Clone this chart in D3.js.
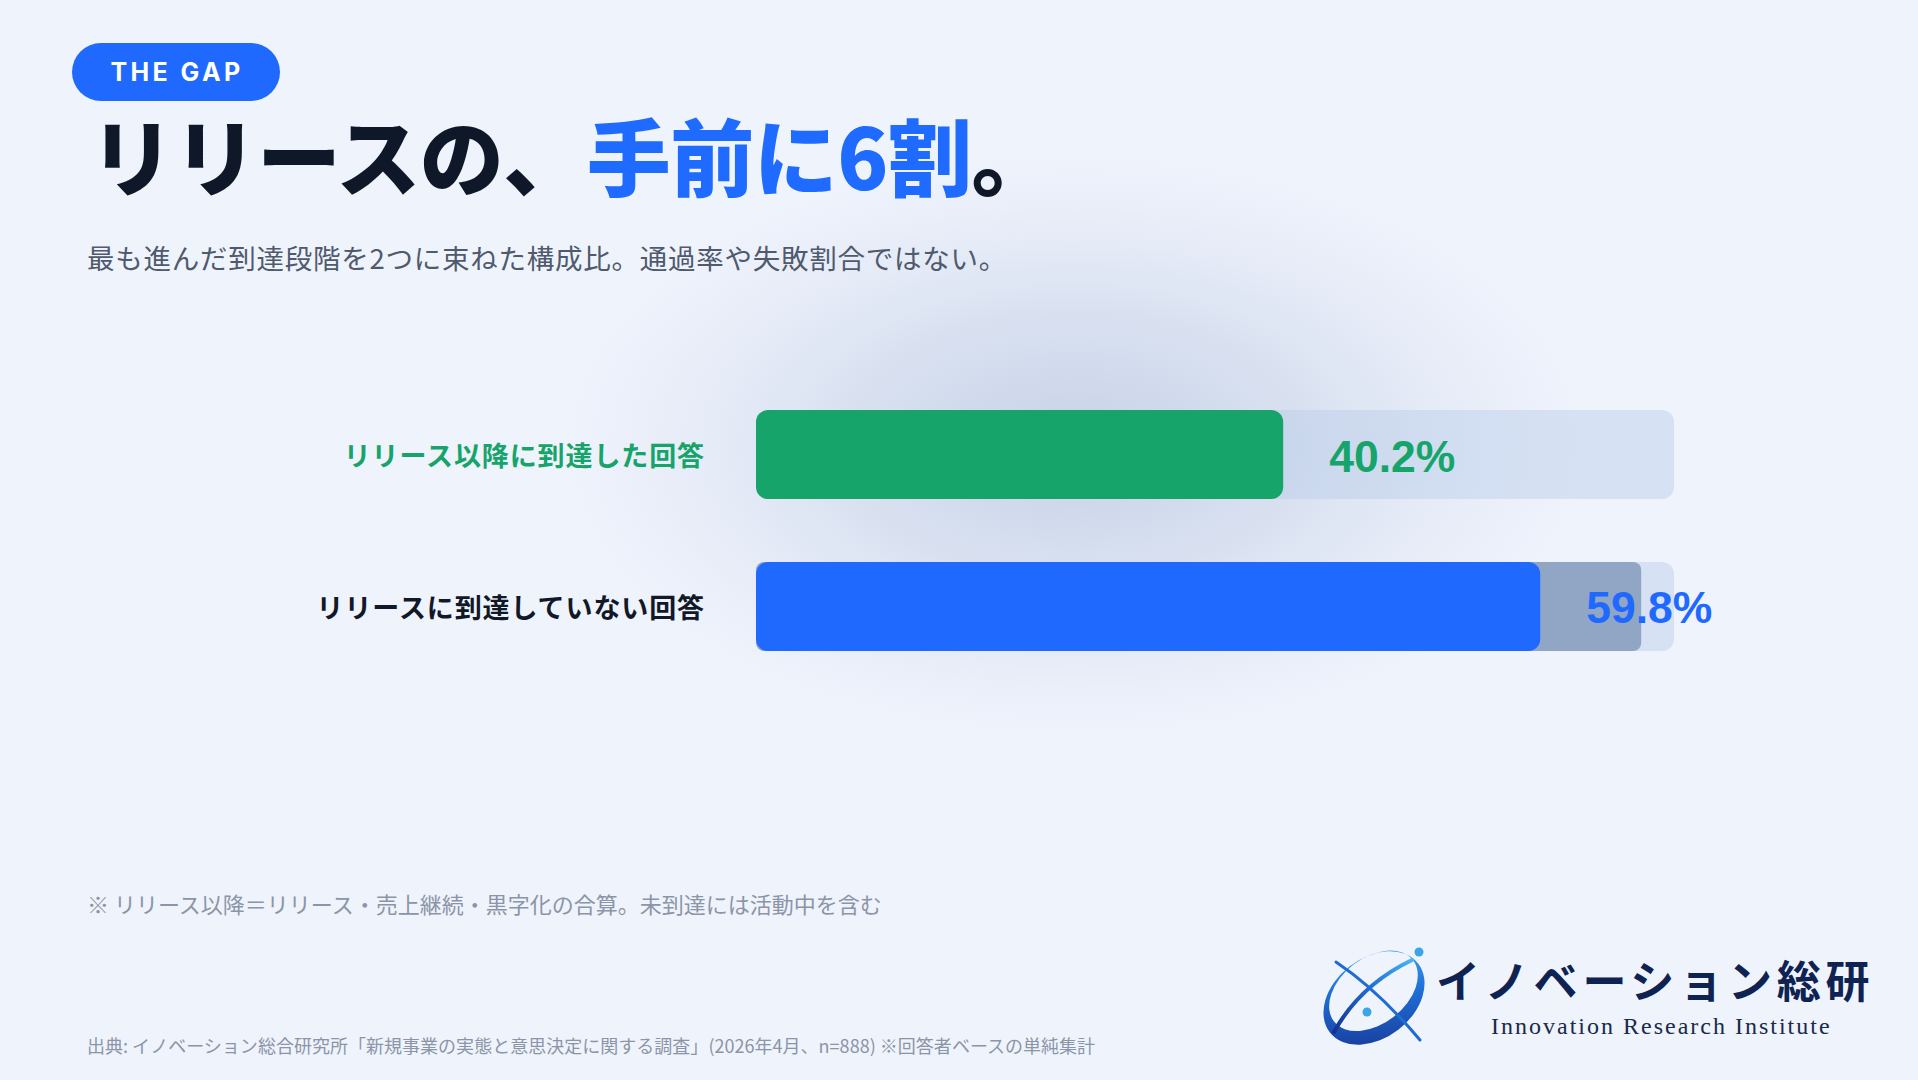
<!DOCTYPE html>
<html lang="ja">
<head>
<meta charset="utf-8">
<script src="https://cdn.jsdelivr.net/npm/d3@7"></script>
<style>
  html, body { margin: 0; padding: 0; background: #eff3fc; }
  svg { display: block; }
</style>
</head>
<body>
<svg id="chart" width="1918" height="1080"></svg>
<script>
// ---- data ----
const categories = ["リリース以降に到達した回答", "リリースに到達していない回答"];
const values = [40.2, 59.8];
const valueLabels = ["40.2%", "59.8%"];
const ghostValues = [null, 67.5];   // grey under-bar visible on the second row
const scaleMax = 70;

const badgeText = "THE GAP";
const titleParts = [
  { text: "リリースの、", color: "#0f1828" },
  { text: "手前に6割", color: "#1f6bff" },
  { text: "。", color: "#0f1828" }
];
const subtitle = "最も進んだ到達段階を2つに束ねた構成比。通過率や失敗割合ではない。";
const footnote = "※ リリース以降＝リリース・売上継続・黒字化の合算。未到達には活動中を含む";
const source = "出典: イノベーション総合研究所「新規事業の実態と意思決定に関する調査」(2026年4月、n=888) ※回答者ベースの単純集計";
const logoJa = "イノベーション総研";
const logoEn = "Innovation Research Institute";

// ---- styles ----
const barColors = ["#16a46b", "#1f69ff"];
const labelColors = ["#16a46b", "#111827"];
const valueColors = ["#16a46b", "#1f69ff"];
const JP = "'Noto Sans CJK JP', 'Noto Sans', sans-serif";

const svg = d3.select("#chart");
const defs = svg.append("defs");

svg.append("rect").attr("width", 1918).attr("height", 1080).attr("fill", "#eff3fc");

// glow behind chart
const rg = defs.append("radialGradient").attr("id", "glow")
  .attr("cx", "50%").attr("cy", "50%").attr("r", "50%");
rg.append("stop").attr("offset", "0%").attr("stop-color", "#8fa3c8").attr("stop-opacity", 0.42);
rg.append("stop").attr("offset", "45%").attr("stop-color", "#9aaed0").attr("stop-opacity", 0.26);
rg.append("stop").attr("offset", "100%").attr("stop-color", "#b8c6e0").attr("stop-opacity", 0);
svg.append("ellipse").attr("cx", 1075).attr("cy", 445).attr("rx", 520).attr("ry", 295)
  .attr("fill", "url(#glow)");

// ---- header ----
const badge = svg.append("g");
badge.append("rect").attr("x", 72).attr("y", 43).attr("width", 208).attr("height", 58)
  .attr("rx", 29).attr("fill", "#1f69ff");
badge.append("text").attr("x", 177).attr("y", 72).attr("dy", "0.36em")
  .attr("text-anchor", "middle").attr("fill", "#ffffff")
  .attr("font-family", "Inter, 'Liberation Sans', sans-serif").attr("font-weight", 700)
  .attr("font-size", 25).attr("letter-spacing", 3.4).text(badgeText);

const title = svg.append("text").attr("x", 90).attr("y", 190)
  .attr("font-family", JP).attr("font-weight", 900).attr("font-size", 84)
  .attr("letter-spacing", -0.5);
title.selectAll("tspan").data(titleParts).join("tspan")
  .attr("fill", d => d.color).text(d => d.text);

svg.append("text").attr("x", 87).attr("y", 269)
  .attr("font-family", JP).attr("font-size", 27.5).attr("fill", "#4f5a6d")
  .attr("letter-spacing", 0.75).text(subtitle);

// ---- chart ----
const x = d3.scaleLinear().domain([0, scaleMax]).range([756, 1674]);
const y = d3.scaleBand().domain(categories).range([410, 651]).paddingInner(0.414).paddingOuter(0);
const rows = categories.map((c, i) => ({ cat: c, v: values[i], label: valueLabels[i], ghost: ghostValues[i], i }));

const g = svg.append("g");
// tracks
g.selectAll("rect.track").data(rows).join("rect").attr("class", "track")
  .attr("x", x(0)).attr("y", d => y(d.cat))
  .attr("width", x(scaleMax) - x(0)).attr("height", y.bandwidth())
  .attr("rx", 12).attr("fill", "#b8cbe8").attr("fill-opacity", 0.45);
// ghost bars
g.selectAll("rect.ghost").data(rows.filter(d => d.ghost != null)).join("rect").attr("class", "ghost")
  .attr("x", x(0)).attr("y", d => y(d.cat))
  .attr("width", d => x(d.ghost) - x(0)).attr("height", y.bandwidth())
  .attr("rx", 8).attr("fill", "#91a6c4");
// value bars
g.selectAll("rect.bar").data(rows).join("rect").attr("class", "bar")
  .attr("x", x(0)).attr("y", d => y(d.cat))
  .attr("width", d => x(d.v) - x(0)).attr("height", y.bandwidth())
  .attr("rx", 12).attr("fill", d => barColors[d.i]);
// category labels
g.selectAll("text.cat").data(rows).join("text").attr("class", "cat")
  .attr("x", 705).attr("y", d => y(d.cat) + y.bandwidth() / 2 + 2.5).attr("dy", "0.35em")
  .attr("text-anchor", "end").attr("font-family", JP).attr("font-weight", 700)
  .attr("font-size", 27).attr("letter-spacing", 0.9)
  .attr("fill", d => labelColors[d.i]).text(d => d.cat);
// value labels
g.selectAll("text.val").data(rows).join("text").attr("class", "val")
  .attr("x", d => x(d.v) + 46).attr("y", d => y(d.cat) + y.bandwidth() / 2 + 1).attr("dy", "0.36em")
  .attr("font-family", "'Liberation Sans', Arial, sans-serif").attr("font-weight", 700)
  .attr("font-size", 44.5).attr("fill", d => valueColors[d.i]).text(d => d.label);

// ---- footer ----
svg.append("text").attr("x", 87).attr("y", 913)
  .attr("font-family", JP).attr("font-size", 22).attr("fill", "#8b95a7").text(footnote);
svg.append("text").attr("x", 87).attr("y", 1053)
  .attr("font-family", JP).attr("font-size", 18).attr("fill", "#8b95a7")
  .attr("letter-spacing", 0.02).text(source);

// ---- logo ----
const logo = svg.append("g");
const lg = defs.append("linearGradient").attr("id", "logoGrad")
  .attr("x1", "0%").attr("y1", "100%").attr("x2", "100%").attr("y2", "0%");
lg.append("stop").attr("offset", "0%").attr("stop-color", "#16318f");
lg.append("stop").attr("offset", "55%").attr("stop-color", "#1f6fd6");
lg.append("stop").attr("offset", "100%").attr("stop-color", "#49b4f0");
// crescent ring
const ring = logo.append("g").attr("transform", "translate(1374,998) rotate(-38)");
ring.append("path")
  .attr("d", "M-56,0 A56,40 0 1,0 56,0 A56,40 0 1,0 -56,0 Z M-46,-6 A50,33 0 1,1 54,-6 A50,33 0 1,1 -46,-6 Z")
  .attr("fill", "url(#logoGrad)").attr("fill-rule", "evenodd");
// swooshes
logo.append("path").attr("d", "M1336,962 Q1378,990 1420,1040")
  .attr("fill", "none").attr("stroke", "url(#logoGrad)").attr("stroke-width", 3).attr("stroke-linecap", "round");
logo.append("path").attr("d", "M1334,1032 Q1360,985 1412,960")
  .attr("fill", "none").attr("stroke", "url(#logoGrad)").attr("stroke-width", 4).attr("stroke-linecap", "round");
logo.append("circle").attr("cx", 1419).attr("cy", 952).attr("r", 4.5).attr("fill", "#3aa6e6");
logo.append("circle").attr("cx", 1367).attr("cy", 1012).attr("r", 4.5).attr("fill", "#3aa6e6");
logo.append("text").attr("x", 1436).attr("y", 998)
  .attr("font-family", JP).attr("font-weight", 700).attr("font-size", 44)
  .attr("letter-spacing", 4.8).attr("fill", "#0f2352").text(logoJa);
logo.append("text").attr("x", 1491).attr("y", 1034)
  .attr("font-family", "'Liberation Serif', 'DejaVu Serif', serif").attr("font-size", 24)
  .attr("letter-spacing", 2.0).attr("fill", "#1a2a4a").text(logoEn);
</script>
</body>
</html>
